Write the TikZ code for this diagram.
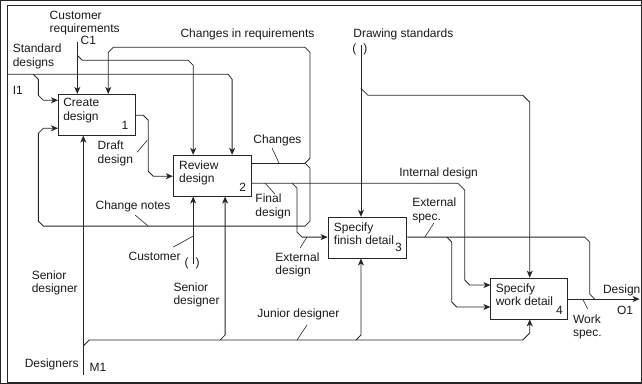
\documentclass[tikz,border=0pt]{standalone}
\usepackage{fontspec}
\setmainfont{Liberation Sans}
\usetikzlibrary{arrows.meta,calc}
\begin{document}
\begin{tikzpicture}[x=1pt,y=-1pt,
  every path/.style={line width=0.8pt,draw=black!85},
  arr/.style={-{Stealth[length=7pt,width=6pt,inset=2pt]}},
  lead/.style={line width=0.6pt},
  box/.style={draw=black!85,line width=0.8pt,minimum width=77pt,minimum height=41pt,inner sep=0pt},
  lbl/.style={inner sep=0pt,anchor=north west,align=left,font=\fontsize{12}{13.5}\selectfont,text=black!90},
  num/.style={inner sep=0pt,anchor=south east,font=\fontsize{12}{13.5}\selectfont,text=black!90}]
\useasboundingbox (0,0) rectangle (642,383);
% frame
\draw (643,5) -- (7,5) -- (7,382) -- (643,382);
% boxes
\node[box] (b1) at (96.5,114.5) {};
\node[box,minimum width=78pt] (b2) at (212,175.5) {};
\node[box,minimum width=79pt] (b3) at (367.5,237.5) {};
\node[box] (b4) at (529.5,298.5) {};
\node[lbl,xshift=5pt,yshift=-4.3pt] (b1t) at (b1.north west) {Create\\design};
\node[lbl,xshift=6pt,yshift=-5.3pt] (b2t) at (b2.north west) {Review\\design};
\node[lbl,xshift=6pt,yshift=-5.3pt] (b3t) at (b3.north west) {Specify\\finish detail};
\node[lbl,xshift=5pt,yshift=-5.3pt] (b4t) at (b4.north west) {Specify\\work detail};
\node[num,xshift=-7pt,yshift=6pt] (b1n) at (b1.south east) {1};
\node[num,xshift=-5pt,yshift=5pt] (b2n) at (b2.south east) {2};
\node[num,xshift=-5pt,yshift=6pt] (b3n) at (b3.south east) {3};
\node[num,xshift=-5pt,yshift=5pt] (b4n) at (b4.south east) {4};
% coordinates
\coordinate (sd) at (7,74);
\coordinate (sdx) at (232,79);
\coordinate (i1b) at (43,100);
\coordinate (c1) at (77,42);
\coordinate (c1b) at (193,65);
\coordinate (chg) at (305,163);
\coordinate (cr) at (108,52);
\coordinate (cn) at (43,128);
\coordinate (dd) at (143,115);
\coordinate (dd2) at (153,176);
\coordinate (fd) at (458,183);
\coordinate (fd2) at (470,285);
\coordinate (ed) at (302,237);
\coordinate (ds) at (361,45);
\coordinate (dsb) at (530,102);
\coordinate (es) at (585,237);
\coordinate (esb) at (457,307);
\coordinate (o1) at (640,299);
\coordinate (m1) at (83,375);
\coordinate (mx2) at (225,335);
\coordinate (mx3) at (361,335);
\coordinate (mx4) at (530,333);
\coordinate (cu) at (193,264);
% Standard designs I1
\draw[arr] (sd) -- (228,74) -- (sdx) -- (sdx |- b2.north);
\draw[arr] (33,74) -- (38,79) -- (38,95) -- (i1b) -- (i1b -| b1.west);
% Customer requirements C1
\draw[arr] (c1) -- (c1 |- b1.north);
\draw[arr] (77,55) -- (82,60) -- (188,60) -- (c1b) -- (c1b |- b2.north);
% Changes
\draw (chg -| b2.east) -- (chg);
\draw[arr] (chg) -- (310,158) -- (310,52) -- (305,47) -- (113,47) -- (cr) -- (cr |- b1.north);
\draw[arr] (chg) -- (310,168) -- (310,221) -- (305,226) -- (43,226) -- (38,221) -- (38,133) -- (cn) -- (cn -| b1.west);
% Draft design
\draw[arr] (dd -| b1.east) -- (dd) -- (148,120) -- (148,171) -- (dd2) -- (dd2 -| b2.west);
% Final design / Internal design
\draw[arr] (fd -| b2.east) -- (fd) -- (465,190) -- (465,280) -- (fd2) -- (fd2 -| b4.west);
\draw[arr] (292,183) -- (297,188) -- (297,232) -- (ed) -- (ed -| b3.west);
% Drawing standards
\draw[arr] (ds) -- (ds |- b3.north);
\draw[arr] (361,88) -- (368,95) -- (523,95) -- (dsb) -- (dsb |- b4.north);
% External spec
\draw (es -| b3.east) -- (es) -- (590,242) -- (590,294) -- (595,299);
\draw[arr] (447,237) -- (452,242) -- (452,302) -- (esb) -- (esb -| b4.west);
% Output
\draw[arr] (o1 -| b4.east) -- (o1);
% Mechanisms
\draw[arr] (m1) -- (m1 |- b1.south);
\draw[arr] (83,346) -- (89,340) -- (523,340) -- (mx4) -- (mx4 |- b4.south);
\draw[arr] (220,340) -- (mx2) -- (mx2 |- b2.south);
\draw[arr] (356,340) -- (mx3) -- (mx3 |- b3.south);
\draw[arr] (cu) -- (cu |- b2.south);
% leaders
\draw[lead] (137,152) -- (147,140);
\draw[lead] (272,148) -- (279,163);
\draw[lead] (265,183) -- (275,194);
\draw[lead] (135,215) -- (148,226);
\draw[lead] (300,248) -- (307,237);
\draw[lead] (425,237) -- (434,223);
\draw[lead] (173,247) -- (193,236);
\draw[lead] (297,340) -- (307,325);
\draw[lead] (583,299) -- (588,309);
% labels
\node[lbl] (tcr) at (49,10.3) {Customer\\requirements};
\node[lbl] (tc1) at (80,35.3) {C1};
\node[lbl] (tsd) at (12,43.3) {Standard\\designs};
\node[lbl] (ti1) at (12,85.3) {I1};
\node[lbl] (tcir) at (180,28.3) {Changes in requirements};
\node[lbl] (tds) at (353,28.3) {Drawing standards};
\node[lbl] (tdsp) at (352,43) {(\hspace{7pt})};
\node[lbl] (tdd) at (97,140.3) {Draft\\design};
\node[lbl] (tch) at (253,134.3) {Changes};
\node[lbl] (tfd) at (255,193.3) {Final\\design};
\node[lbl] (tcn) at (95,200.3) {Change notes};
\node[lbl] (ted) at (275,252.3) {External\\design};
\node[lbl] (tid) at (399,167.3) {Internal design};
\node[lbl] (tes) at (412,197.3) {External\\spec.};
\node[lbl] (tsl) at (31,270.3) {Senior\\designer};
\node[lbl] (tsm) at (173,282.3) {Senior\\designer};
\node[lbl] (tcu) at (128,251.3) {Customer};
\node[lbl] (tcup) at (184,257) {(\hspace{7pt})};
\node[lbl] (tjd) at (257,308.3) {Junior designer};
\node[lbl] (tdg) at (24,358.3) {Designers};
\node[lbl] (tm1) at (89,363.3) {M1};
\node[lbl] (tde) at (603,284.3) {Design};
\node[lbl] (to1) at (617,305.3) {O1};
\node[lbl] (tws) at (573,314.3) {Work\\spec.};
\end{tikzpicture}
\end{document}
